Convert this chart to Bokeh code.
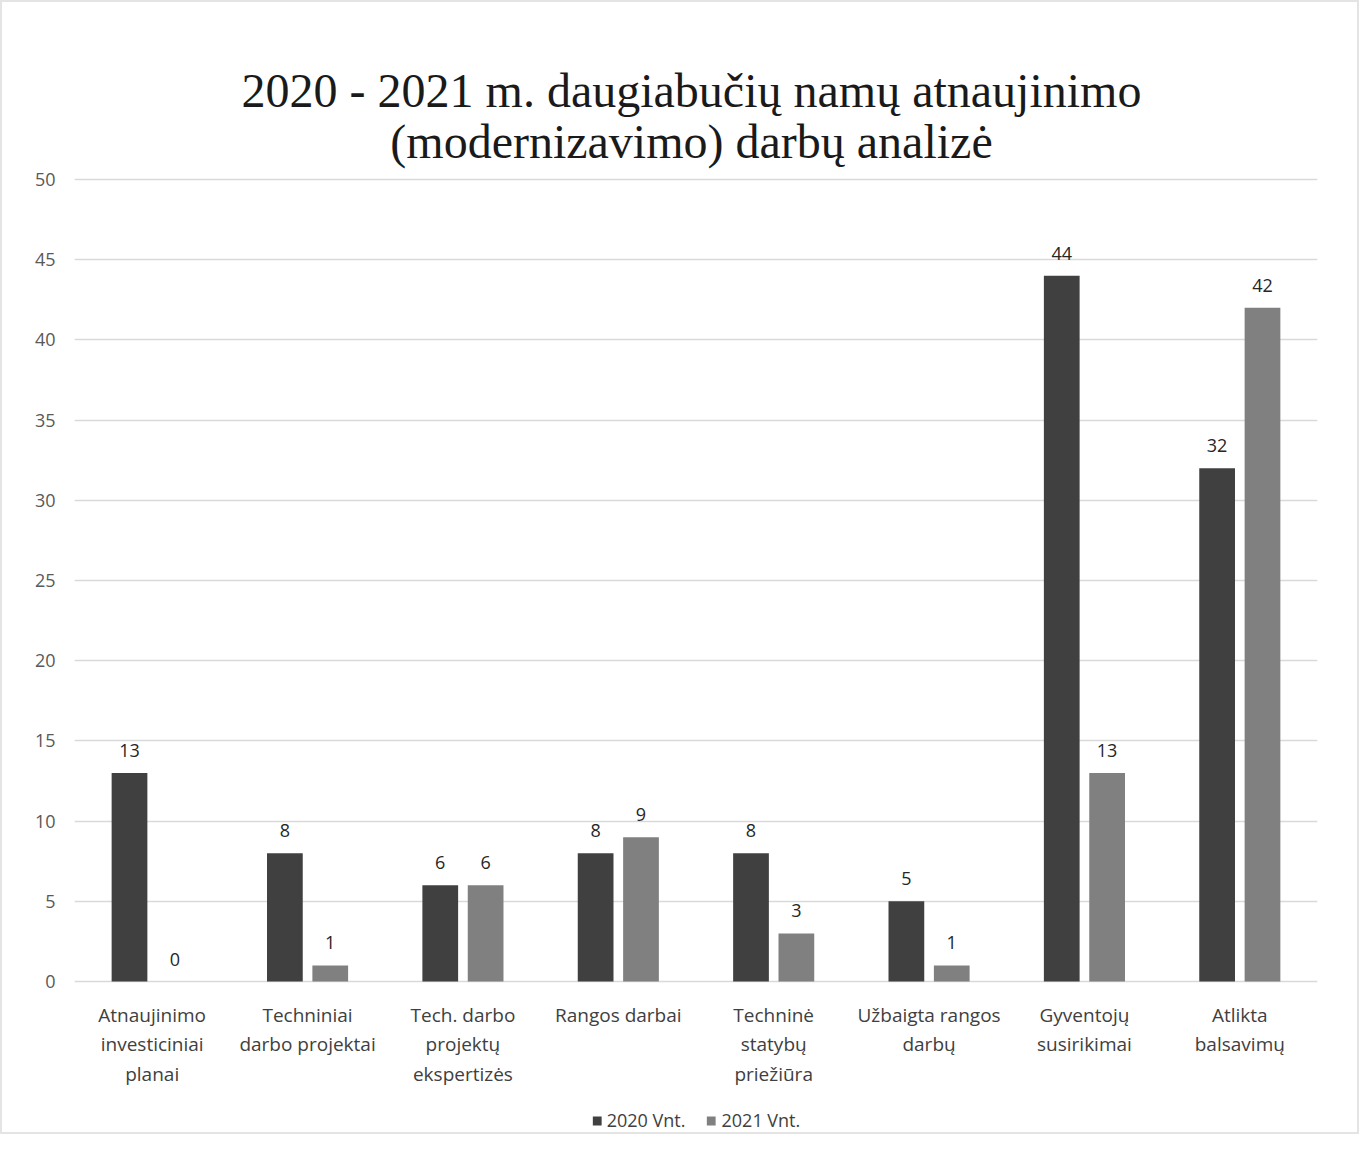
from bokeh.plotting import figure
from bokeh.models import (ColumnDataSource, FactorRange, LabelSet, Label, Legend, LegendItem,
                          FixedTicker, Range1d)
from bokeh.core.properties import value
from bokeh.transform import dodge
from bokeh.embed import file_html
from bokeh.resources import INLINE

categories = [
    "Atnaujinimo\ninvesticiniai\nplanai",
    "Techniniai\ndarbo projektai",
    "Tech. darbo\nprojektų\nekspertizės",
    "Rangos darbai",
    "Techninė\nstatybų\npriežiūra",
    "Užbaigta rangos\ndarbų",
    "Gyventojų\nsusirikimai",
    "Atlikta\nbalsavimų",
]
values_2020 = [13, 8, 6, 8, 8, 5, 44, 32]
values_2021 = [0, 1, 6, 9, 3, 1, 13, 42]
series_names = ["2020 Vnt.", "2021 Vnt."]
y_ticks = [0, 5, 10, 15, 20, 25, 30, 35, 40, 45, 50]
title_lines = ["2020 - 2021 m. daugiabučių namų atnaujinimo", "(modernizavimo) darbų analizė"]

src = ColumnDataSource(dict(
    cat=categories,
    v20=values_2020,
    v21=values_2021,
    l20=[str(v) for v in values_2020],
    l21=[str(v) for v in values_2021],
))

# the frame extends above and below the value area so that title, category
# labels and legend (all drawn inside it) are never clipped
PX_PER_UNIT = 802 / 50
FRAME_H = 1130
y_top = 50 + 177 / PX_PER_UNIT
y_bot = -(151 / PX_PER_UNIT)

p = figure(
    frame_width=1243, frame_height=FRAME_H,
    x_range=FactorRange(*categories, range_padding=0.0),
    y_range=Range1d(y_bot, y_top),
    output_backend="svg", toolbar_location=None,
    min_border_left=72, min_border_right=40, min_border_top=0, min_border_bottom=0,
)

dark = "#404040"
light = "#808080"

r1 = p.vbar(x=dodge("cat", -0.146, range=p.x_range), top="v20", bottom=0, width=0.23,
            source=src, fill_color=dark, line_color=None)
r2 = p.vbar(x=dodge("cat", 0.146, range=p.x_range), top="v21", bottom=0, width=0.23,
            source=src, fill_color=light, line_color=None)

lab_style = dict(text_font=value("Open Sans"), text_font_size="18px", text_color="#262626",
                 text_align="center", text_baseline="alphabetic", y_offset=16)
p.add_layout(LabelSet(x=dodge("cat", -0.146, range=p.x_range), y="v20", text="l20",
                      source=src, **lab_style))
p.add_layout(LabelSet(x=dodge("cat", 0.146, range=p.x_range), y="v21", text="l21",
                      source=src, **lab_style))

# category labels, one LabelSet per text line
split = [c.split("\n") for c in categories]
for i in range(max(len(s) for s in split)):
    cats = [c for c, s in zip(categories, split) if len(s) > i]
    txts = [s[i] for s in split if len(s) > i]
    lsrc = ColumnDataSource(dict(cat=cats, txt=txts, y=[0] * len(cats)))
    p.add_layout(LabelSet(x="cat", y="y", text="txt", source=lsrc,
                          y_offset=-40 - 29.5 * i,
                          text_font=value("Open Sans"), text_font_size="19px",
                          text_color="#404040", text_align="center",
                          text_baseline="alphabetic"))

# title lines (screen units inside the frame)
for line, ypix in zip(title_lines, [1042, 991]):
    p.add_layout(Label(x=617, y=ypix, x_units="screen", y_units="screen", text=line,
                       text_font="Liberation Serif", text_font_size="48px",
                       text_color="#1a1a1a", text_align="center",
                       text_baseline="alphabetic"))

# axes
p.yaxis.ticker = FixedTicker(ticks=y_ticks)
p.yaxis.axis_line_color = None
p.yaxis.major_tick_line_color = None
p.yaxis.minor_tick_line_color = None
p.yaxis.major_label_text_font = "Open Sans"
p.yaxis.major_label_text_font_size = "18px"
p.yaxis.major_label_text_color = "#595959"
p.yaxis.major_label_standoff = 13
p.xaxis.visible = False

p.xgrid.grid_line_color = None
p.ygrid.ticker = FixedTicker(ticks=y_ticks)
p.ygrid.grid_line_color = "#d9d9d9"
p.ygrid.grid_line_width = 1.5
p.outline_line_color = None

legend = Legend(items=[LegendItem(label=series_names[0], renderers=[r1]),
                       LegendItem(label=series_names[1], renderers=[r2])],
                orientation="horizontal", location="bottom_center",
                label_text_font="Open Sans", label_text_font_size="18px",
                label_text_color="#404040", border_line_color=None,
                background_fill_alpha=0,
                glyph_width=11, glyph_height=11, spacing=20, label_standoff=5,
                margin=0, padding=0)
p.add_layout(legend, "center")

p.styles = {"border": "2px solid #e4e4e4"}

open("out.html", "w").write(file_html(p, INLINE))
